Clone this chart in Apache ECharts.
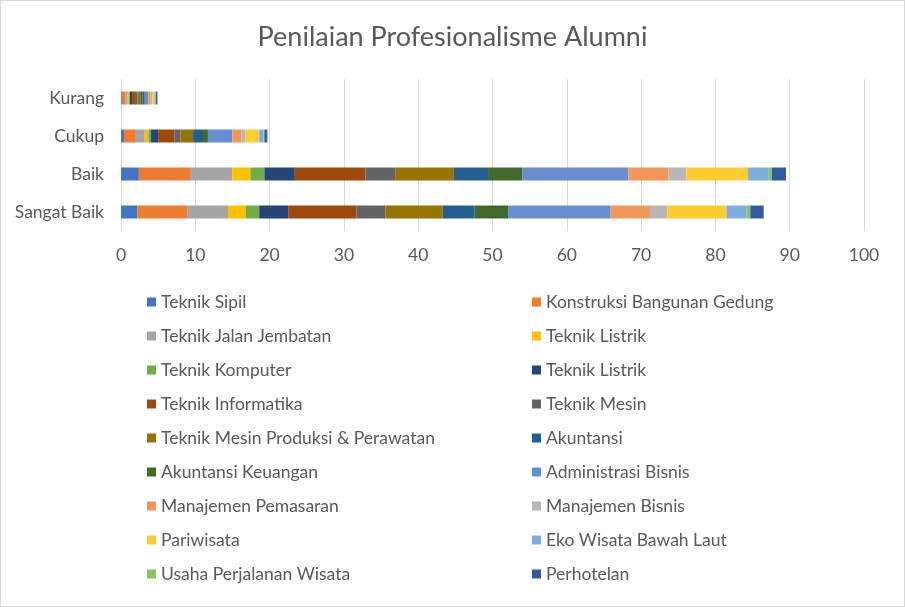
<!DOCTYPE html>
<html>
<head>
<meta charset="utf-8">
<script src="https://cdn.jsdelivr.net/npm/echarts@6/dist/echarts.min.js"></script>
<style>
  html, body {margin: 0; padding: 0; background: #fff;}
  #chart {width: 905px; height: 607px; box-sizing: border-box; border: 1px solid #d9d9d9;}
</style>
</head>
<body>
<div id="chart"></div>
<script>
// kategori dari bawah ke atas
const categories = ['Sangat Baik', 'Baik', 'Cukup', 'Kurang']

const jurusan = [
    'Teknik Sipil', 'Konstruksi Bangunan Gedung', 'Teknik Jalan Jembatan', 'Teknik Listrik',
    'Teknik Komputer', 'Teknik Listrik', 'Teknik Informatika', 'Teknik Mesin',
    'Teknik Mesin Produksi & Perawatan', 'Akuntansi', 'Akuntansi Keuangan', 'Administrasi Bisnis',
    'Manajemen Pemasaran', 'Manajemen Bisnis', 'Pariwisata', 'Eko Wisata Bawah Laut',
    'Usaha Perjalanan Wisata', 'Perhotelan'
]

const colors = [
    '#4472C4', '#ED7D31', '#A5A5A5', '#FFC000', '#70AD47', '#264478', '#9E480E', '#636363',
    '#997300', '#255E91', '#43682B', '#698ED0', '#F1975A', '#B7B7B7', '#FFCD33', '#7CAFDD',
    '#8CC168', '#335AA1'
]

// nilai per jurusan, urutan sama dengan jurusan[]
const sangatBaik = [2.2, 6.7, 5.5, 2.4, 1.8, 3.9, 9.2, 3.9, 7.7, 4.3, 4.5, 13.8, 5.3, 2.3, 8.0, 2.7, 0.5, 1.8]
const baik = [2.4, 7.0, 5.6, 2.4, 1.9, 4.1, 9.5, 4.0, 7.9, 4.6, 4.6, 14.3, 5.4, 2.4, 8.3, 2.7, 0.5, 1.9]
const cukup = [0.4, 1.6, 1.2, 0.5, 0.3, 1.0, 2.2, 0.8, 1.7, 1.2, 0.8, 3.3, 1.2, 0.5, 1.9, 0.6, 0.1, 0.4]
const kurang = [0.1, 0.5, 0.3, 0.2, 0.1, 0.3, 0.4, 0.3, 0.4, 0.3, 0.3, 0.5, 0.3, 0.2, 0.3, 0.1, 0.1, 0.2]

const xTicks = [0, 10, 20, 30, 40, 50, 60, 70, 80, 90, 100]

const font = 'Lato, "Open Sans", sans-serif'
const textColor = '#595959'

// nama jurusan ada yang dobel (Teknik Listrik), jadi kasih key unik per seri
const keyOf = i => jurusan[i] + '#' + i

const series = jurusan.map((name, i) => ({
    name: keyOf(i),
    type: 'bar',
    stack: 'total',
    barWidth: 13,
    itemStyle: {color: colors[i]},
    data: [sangatBaik[i], baik[i], cukup[i], kurang[i]]
}))

// legenda dua kolom: kiri index genap, kanan index ganjil
function legendCol(left, parity) {
    return {
        orient: 'vertical',
        left: left,
        top: 292,
        padding: 0,
        itemWidth: 9,
        itemHeight: 9,
        itemGap: 16,
        icon: 'rect',
        selectedMode: false,
        formatter: n => n.split('#')[0],
        textStyle: {fontFamily: font, fontSize: 17.5, color: textColor, lineHeight: 17},
        data: jurusan.map((s, i) => i).filter(i => i % 2 === parity).map(i => ({name: keyOf(i)}))
    }
}

const chart = echarts.init(document.getElementById('chart'))
chart.setOption({
    animation: false,
    color: colors,
    title: {
        text: 'Penilaian Profesionalisme Alumni',
        left: 'center',
        top: 18,
        textStyle: {fontFamily: font, fontSize: 27, fontWeight: 'normal', color: textColor}
    },
    legend: [legendCol(146, 0), legendCol(531, 1)],
    grid: {left: 120, right: 40, top: 78, bottom: 375, containLabel: false},
    xAxis: {
        type: 'value',
        min: xTicks[0],
        max: xTicks[xTicks.length - 1],
        interval: 10,
        axisLine: {show: false},
        axisTick: {show: false},
        axisLabel: {margin: 15, fontFamily: font, fontSize: 17.5, color: textColor},
        splitLine: {lineStyle: {color: '#d9d9d9', width: 1}}
    },
    yAxis: {
        type: 'category',
        data: categories,
        axisLine: {show: false},
        axisTick: {show: false},
        axisLabel: {margin: 17, fontFamily: font, fontSize: 17.5, color: textColor}
    },
    series: series
})
</script>
</body>
</html>
